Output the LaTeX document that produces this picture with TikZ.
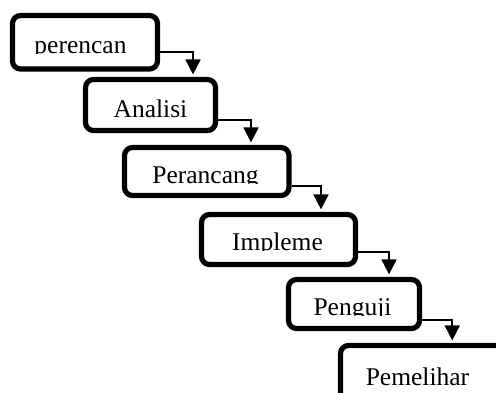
\documentclass[tikz,border=0pt]{standalone}
\usepackage{fontspec}
\setmainfont{Liberation Serif}
\usetikzlibrary{arrows.meta}

\tikzset{
  stagebox/.style 2 args={draw, line width = 5.2pt, rounded corners = 8pt,
    minimum width = #1, minimum height = #2, inner sep = 0pt},
  stagetext/.style={anchor = base, inner sep = 0pt,
    font = \fontsize{25.5}{30}\selectfont},
  flow/.style={line width = 1.8pt, -{Triangle[length=15pt, width=15pt]},
    shorten > = 2.5pt}
}

% text whose descenders are cut off at the baseline
\newcommand{\cuttext}[4]{%
  \begin{scope}
    \clip (#2-90, #3+0.5) rectangle (#2+90, #3-40);
    \node[stagetext] (#1) at (#2, #3) {#4};
  \end{scope}}

\begin{document}
\begin{tikzpicture}[x = 1pt, y = -1pt]
      \useasboundingbox (0, 0) rectangle (496, 392);
      \clip (0, 0) rectangle (496, 392);

      \node[stagebox = {145pt}{53.5pt}] (plan) at (85, 42.25) {};
      \cuttext{plant}{80.5}{53}{perencan}

      \node[stagebox = {130pt}{51pt}] (anal) at (150.5, 105) {};
      \cuttext{analt}{150.5}{117}{Analisi}

      \node[stagebox = {164.5pt}{48pt}] (desg) at (206.75, 171.5) {};
      \cuttext{desgt}{205.5}{183}{Perancang}

      \node[stagebox = {154pt}{50pt}] (impl) at (278.5, 239.5) {};
      \cuttext{implt}{277.5}{250}{Impleme}

      \node[stagebox = {131pt}{49pt}] (test) at (354, 304) {};
      \cuttext{testt}{352.5}{315}{Penguji}

      \node[stagebox = {169.5pt}{64.5pt}] (main) at (425.25, 377.75) {};
      \cuttext{maint}{417.5}{385}{Pemelihar}

      \draw[flow] ([yshift = -9.75pt]plan.east) -| ([xshift = 42.5pt]anal.north);
      \draw[flow] ([yshift = -15pt]anal.east) -| ([xshift = 44.25pt]desg.north);
      \draw[flow] ([yshift = -14.5pt]desg.east) -| ([xshift = 42.5pt]impl.north);
      \draw[flow] ([yshift = -12.5pt]impl.east) -| ([xshift = 35pt]test.north);
      \draw[flow] ([yshift = -16pt]test.east) -| ([xshift = 27pt]main.north);
\end{tikzpicture}
\end{document}
